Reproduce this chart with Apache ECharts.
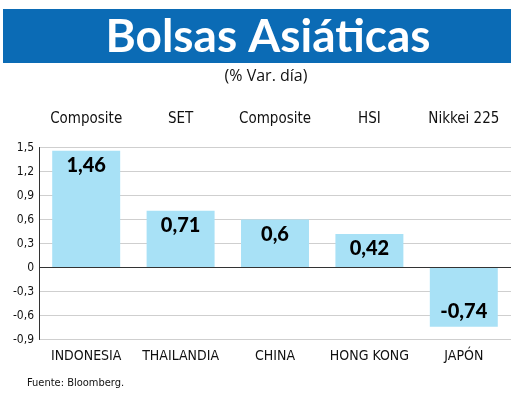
<!DOCTYPE html>
<html>
<head>
<meta charset="utf-8">
<script src="https://cdn.jsdelivr.net/npm/echarts@6/dist/echarts.min.js"></script>
<style>
html,body{margin:0;padding:0;background:#fff;}
#c{width:520px;height:413px;}
</style>
</head>
<body>
<div id="c"></div>
<script>
var countries = ['INDONESIA', 'THAILANDIA', 'CHINA', 'HONG KONG', 'JAPÓN'];
var indices = ['Composite', 'SET', 'Composite', 'HSI', 'Nikkei 225'];
var values = [1.46, 0.71, 0.6, 0.42, -0.74];
var yTicks = { min: -0.9, max: 1.5, interval: 0.3 };

var narrow = '"Liberation Sans Narrow", "DejaVu Sans Condensed", "Roboto", sans-serif';
function fmt(v) {
  var s = (Math.round(v * 100) / 100).toString();
  return s.replace('.', ',');
}

var chart = echarts.init(document.getElementById('c'), null, { renderer: 'canvas' });
chart.setOption({
  animation: false,
  backgroundColor: '#fff',
  graphic: [
    { type: 'rect', shape: { x: 3, y: 9, width: 508, height: 54 }, style: { fill: '#0b6bb5' }, z: 0 },
    { type: 'text', x: 268, y: 37, style: { text: 'Bolsas Asiáticas', fill: '#fff', font: 'bold 46px Lato, "Open Sans", sans-serif', textAlign: 'center', textVerticalAlign: 'middle' }, z: 1 },
    { type: 'text', x: 266, y: 76, style: { text: '(% Var. día)', fill: '#111', font: '16px "Open Sans", sans-serif', textAlign: 'center', textVerticalAlign: 'middle' } },
    { type: 'text', x: 27, y: 383, style: { text: 'Fuente: Bloomberg.', fill: '#111', font: '11px ' + narrow, textAlign: 'left', textVerticalAlign: 'middle' } }
  ],
  grid: { left: 39, right: 9, top: 147.5, bottom: 73.5 },
  xAxis: [
    {
      type: 'category', data: countries, position: 'bottom',
      axisLine: { show: false, onZero: false }, axisTick: { show: false },
      axisLabel: { interval: 0, color: '#111', fontFamily: narrow, fontSize: 14, margin: 10 }
    },
    {
      type: 'category', data: indices, position: 'top',
      axisLine: { show: false, onZero: false }, axisTick: { show: false },
      axisLabel: { interval: 0, color: '#111', fontFamily: narrow, fontSize: 15, margin: 21 }
    }
  ],
  yAxis: {
    type: 'value', min: yTicks.min, max: yTicks.max, interval: yTicks.interval,
    axisLine: { show: true, lineStyle: { color: '#333', width: 1 } },
    axisTick: { show: false },
    splitLine: { lineStyle: { color: '#cfcfcf', width: 1 } },
    axisLabel: {
      color: '#111', fontFamily: narrow, fontSize: 12, margin: 5,
      formatter: function (v) { return fmt(v); }
    }
  },
  series: [{
    type: 'bar', xAxisIndex: 0, barWidth: '72%',
    itemStyle: { color: '#a8e1f6' },
    data: values.map(function (v) {
      return { value: v, label: { position: v < 0 ? 'insideBottom' : 'insideTop' } };
    }),
    label: {
      show: true, distance: 5, color: '#000',
      fontFamily: 'Lato, "Open Sans", sans-serif', fontWeight: 900, fontSize: 20,
      formatter: function (p) { return fmt(p.value); }
    },
    markLine: {
      silent: true, symbol: 'none', label: { show: false },
      lineStyle: { color: '#333', width: 1, type: 'solid' },
      data: [{ yAxis: 0 }]
    }
  }]
});
</script>
</body>
</html>
